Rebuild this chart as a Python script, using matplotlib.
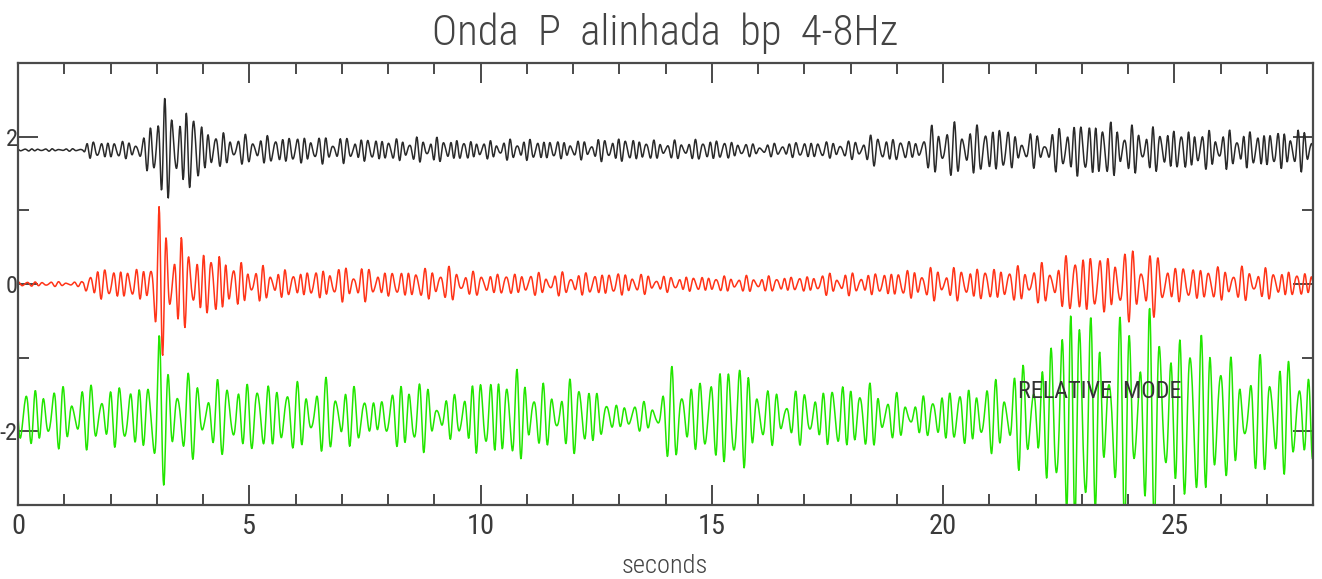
import numpy as np
import matplotlib
matplotlib.use("Agg")
import matplotlib.pyplot as plt
from matplotlib import font_manager
from matplotlib.ticker import MultipleLocator, FixedLocator, FuncFormatter

# ---------------- data ----------------
title_text = "Onda  P  alinhada  bp  4-8Hz"
xlabel_text = "seconds"
note_text = "RELATIVE  MODE"

t_min, t_max = 0.0, 28.0
y_min, y_max = -3.0, 3.0
sample_rate = 100.0  # samples per second

# trace baselines (data units)
black_offset = 1.82
red_offset = 0.0
green_offset = -1.80

# amplitude envelopes: knot times (s) and peak amplitudes (data units)
black_env_t = [0, 1.4, 1.5, 2.7, 2.85, 3.0, 3.15, 3.4, 3.8, 4.0, 4.5, 5, 6, 7, 8, 9, 10, 11, 12, 13,
               14, 15, 16, 17, 18, 18.5, 19, 19.5, 19.8, 21.4, 21.7, 21.9, 22.2, 22.6, 23.5, 24, 25,
               26, 27, 28]
black_env_a = [0.015, 0.015, 0.11, 0.12, 0.34, 0.85, 0.68, 0.47, 0.57, 0.30, 0.20, 0.18, 0.18, 0.16,
               0.14, 0.16, 0.11, 0.14, 0.11, 0.16, 0.11, 0.14, 0.07, 0.11, 0.11, 0.20, 0.14, 0.11,
               0.34, 0.30, 0.11, 0.24, 0.14, 0.34, 0.38, 0.30, 0.27, 0.24, 0.24, 0.27]

red_env_t = [0, 1.4, 1.5, 2.7, 2.85, 3.05, 3.25, 3.5, 3.8, 4.3, 4.6, 5, 5.5, 6, 7.3, 8, 9.2, 10, 13,
             14, 17, 17.5, 18.5, 19.5, 21.5, 22.5, 22.8, 23.5, 24.2, 24.6, 25, 27, 28]
red_env_a = [0.03, 0.03, 0.20, 0.20, 0.34, 0.95, 0.74, 0.61, 0.41, 0.43, 0.30, 0.24, 0.20, 0.16,
             0.23, 0.16, 0.22, 0.14, 0.15, 0.10, 0.10, 0.14, 0.14, 0.20, 0.22, 0.27, 0.43, 0.38,
             0.47, 0.38, 0.24, 0.20, 0.14]

green_env_t = [0, 2.5, 2.9, 3.05, 3.3, 4, 5, 6, 7, 7.8, 8.5, 9.2, 9.8, 10.8, 11.5, 12.2, 12.8, 13.8,
               14.2, 14.7, 15.2, 15.7, 16.2, 17.4, 17.7, 18.5, 19.3, 20, 21, 21.5, 22.2, 22.8, 23.1,
               23.5, 24.2, 24.5, 25, 25.6, 26.3, 26.8, 27.2, 27.6, 28]
green_env_a = [0.38, 0.41, 0.54, 1.12, 0.61, 0.47, 0.47, 0.43, 0.47, 0.20, 0.57, 0.20, 0.47, 0.61,
               0.34, 0.54, 0.16, 0.20, 0.68, 0.41, 0.74, 0.68, 0.34, 0.34, 0.47, 0.41, 0.20, 0.34,
               0.43, 0.61, 0.74, 1.76, 1.49, 0.95, 1.55, 1.35, 1.08, 1.22, 0.68, 0.68, 1.01, 0.54,
               0.68]

# dominant frequency (Hz, inside the 4-8 Hz band) along each trace
freq_t = [0, 5, 10, 15, 20, 25, 28]
black_freq = [6.8, 6.2, 7.0, 6.5, 6.0, 6.6, 6.9]
red_freq = [5.8, 6.3, 5.6, 6.2, 5.9, 5.4, 6.1]
green_freq = [5.0, 4.6, 5.3, 4.8, 5.2, 4.5, 4.9]
start_phase = {"black": 1.2, "red": 0.4, "green": 2.3}
# extra components: relative amplitudes, frequency ratios and phase shifts
extra_amp = [0.35, 0.25]
extra_ratio = [1.37, 0.71]
extra_shift = [0.7, 2.1]

trace_colors = {"black": "#2a2a2a", "red": "#ff3418", "green": "#22e600"}

# ---------------- build traces ----------------
t = np.arange(t_min, t_max + 0.5 / sample_rate, 1.0 / sample_rate)


def trace(env_t, env_a, f_knots, ph0, offset):
    f = np.interp(t, freq_t, f_knots)
    phase = 2 * np.pi * np.cumsum(f) / sample_rate + ph0
    c = np.sin(phase)
    for a, k, s in zip(extra_amp, extra_ratio, extra_shift):
        c += a * np.sin(k * phase + s)
    c /= (1 + sum(extra_amp)) * 0.85
    env = np.interp(t, env_t, env_a)
    return offset + env * c


black = trace(black_env_t, black_env_a, black_freq, start_phase["black"], black_offset)
red = trace(red_env_t, red_env_a, red_freq, start_phase["red"], red_offset)
green = trace(green_env_t, green_env_a, green_freq, start_phase["green"], green_offset)

# ---------------- fonts ----------------
avail = {f.name for f in font_manager.fontManager.ttflist}
family = "DejaVu Sans"
for cand in ["Liberation Sans Narrow", "Roboto Condensed", "Open Sans Condensed", "DejaVu Sans Condensed"]:
    if cand in avail:
        family = cand
        break
plt.rcParams["font.family"] = [family, "DejaVu Sans"]

# ---------------- figure ----------------
W, H = 1322, 579
fig = plt.figure(figsize=(W / 100, H / 100), dpi=100)
ax = fig.add_axes([18 / W, (H - 505) / H, (1313 - 18) / W, (505 - 63) / H])

ax.plot(t, green, color=trace_colors["green"], lw=1.1)
ax.plot(t, red, color=trace_colors["red"], lw=1.1)
ax.plot(t, black, color=trace_colors["black"], lw=1.1)

ax.set_xlim(t_min, t_max)
ax.set_ylim(y_min, y_max)

frame = "#4a4a4a"
for s in ax.spines.values():
    s.set_color(frame)
    s.set_linewidth(1.6)

ax.xaxis.set_major_locator(MultipleLocator(5))
ax.xaxis.set_minor_locator(MultipleLocator(1))
ax.yaxis.set_major_locator(FixedLocator([-2, 0, 2]))
ax.yaxis.set_minor_locator(FixedLocator([-1, 1]))
ax.xaxis.set_major_formatter(FuncFormatter(lambda v, p: "%d" % round(v)))
ax.yaxis.set_major_formatter(FuncFormatter(lambda v, p: "%d" % round(v)))

ax.tick_params(which="both", direction="in", top=True, right=True, color=frame, width=1.4,
               labelcolor="#3a3a3a")
ax.tick_params(which="major", length=14.5)
ax.tick_params(which="minor", length=8)
ax.tick_params(axis="x", which="major", pad=6)
ax.tick_params(axis="y", which="major", pad=0.3)

# texts
title = fig.text(665 / W, 1 - 33 / H, title_text, ha="center", va="center", color="#444444",
                 fontsize=30, fontweight="light")
xlab = fig.text(665 / W, 1 - 566 / H, xlabel_text, ha="center", va="center", color="#444444",
                fontsize=16, fontweight="light")
note = ax.text((1015 - 18) / 46.1, (287 - 395) / 74.0, note_text, ha="left", va="center",
               color="#333333", fontsize=14)

fig.canvas.draw()
r = fig.canvas.get_renderer()


def fit(txt, target_w):
    w = txt.get_window_extent(r).width
    txt.set_fontsize(txt.get_fontsize() * target_w / w)


fit(title, 465)
fit(xlab, 86)
fit(note, 163)

# tick label size so that "10" is about 28 px wide
probe = fig.text(0, 0, "10", fontsize=20)
pw = probe.get_window_extent(r).width
probe.remove()
ax.tick_params(axis="x", labelsize=20 * 28 / pw)
ax.tick_params(axis="y", labelsize=20 * 24 / pw)

fig.savefig("out.png", dpi=100)
